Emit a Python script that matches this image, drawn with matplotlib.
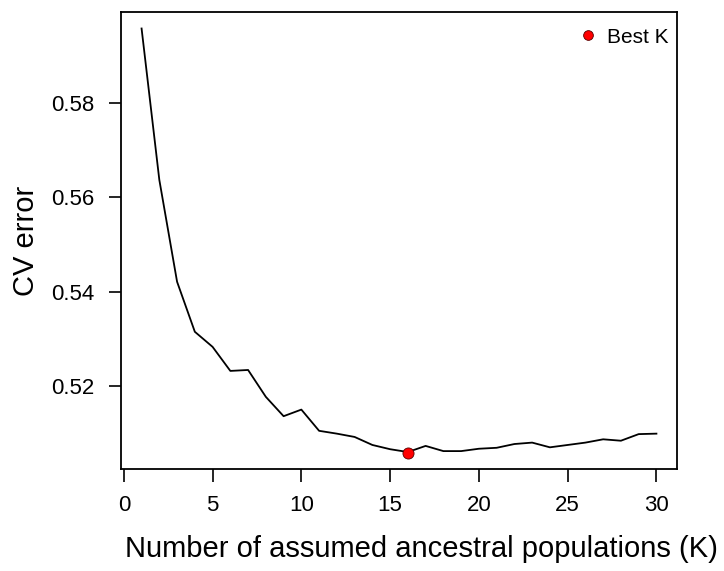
import numpy as np
import matplotlib.pyplot as plt
from matplotlib.lines import Line2D

plt.rcParams['font.family'] = ['Liberation Sans', 'DejaVu Sans']

# K values and cross-validation error
k_values = list(range(1, 31))
cv_error = [0.5958, 0.5637, 0.5421, 0.5315, 0.5283, 0.5232, 0.5234, 0.5177,
            0.5136, 0.5150, 0.5105, 0.5099, 0.5092, 0.5075, 0.5066, 0.5060,
            0.5073, 0.5062, 0.5062, 0.5067, 0.5069, 0.5077, 0.5080, 0.5070,
            0.5075, 0.5080, 0.5087, 0.5084, 0.5098, 0.5099]
best_k = 16
best_err = 0.5058

fig = plt.figure(figsize=(7.24, 5.71), dpi=100)
ax = fig.add_axes([0.1671, 0.1786, 0.9351 - 0.1671, 0.979 - 0.1786])

ax.plot(k_values, cv_error, color='black', lw=1.3)
ax.plot([best_k], [best_err], 'o', ms=8, mfc='red', mec='#550000', mew=0.6)

ax.set_xlim(-0.16, 31.16)
ax.set_ylim(0.5024, 0.5993)
ax.set_xticks([0, 5, 10, 15, 20, 25, 30])
ax.set_yticks([0.52, 0.54, 0.56, 0.58])
ax.set_yticklabels(['0.52', '0.54', '0.56', '0.58'])

for s in ax.spines.values():
    s.set_linewidth(1.3)
ax.tick_params(direction='out', length=9, width=1.2, labelsize=16, pad=10)

ax.set_xlabel('Number of assumed ancestral populations (K)', fontsize=21)
ax.xaxis.set_label_coords(0.54, -0.145)
ax.set_ylabel('CV error', fontsize=21, labelpad=8)

# legend without frame
h = Line2D([], [], ls='none', marker='o', ms=7, mfc='red', mec='#550000', mew=0.6)
ax.legend([h], ['Best K'], loc='upper right', bbox_to_anchor=(0.985, 0.966),
          frameon=False, fontsize=15, handletextpad=0.3, handlelength=1.2,
          borderaxespad=0, borderpad=0)

fig.savefig('out.png', dpi=100)
